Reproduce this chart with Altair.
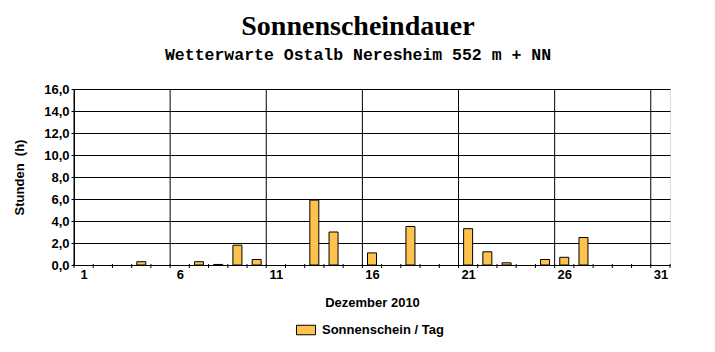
import altair as alt
import pandas as pd

# ---- data ----
days = [4, 7, 8, 9, 10, 13, 14, 16, 18, 21, 22, 23, 25, 26, 27]
hours = [0.3, 0.3, 0.05, 1.8, 0.5, 5.9, 3.0, 1.1, 3.5, 3.3, 1.2, 0.2, 0.5, 0.7, 2.5]
x_label_days = [1, 6, 11, 16, 21, 26, 31]
y_ticks = [0, 2, 4, 6, 8, 10, 12, 14, 16]
grid_bounds = [0.5, 5.5, 10.5, 15.5, 20.5, 25.5, 30.5]
tick_bounds = [d + 0.5 for d in range(0, 32)]
series_name = "Sonnenschein / Tag"
title_text = "Sonnenscheindauer"
subtitle_text = "Wetterwarte Ostalb Neresheim 552 m + NN"
x_title = "Dezember 2010"
y_title = "Stunden \u00a0(h)"

W, H = 596, 176
BAR_COLOR = "#FFC34D"
SANS = "Liberation Sans"

xscale = alt.Scale(domain=[0.5, 31.5], nice=False, zero=False, padding=0)
yscale = alt.Scale(domain=[0, 16], nice=False, zero=True, padding=0)

x_axis = alt.Axis(
    values=x_label_days, grid=False, ticks=False, domainColor="black",
    labelFont=SANS, labelFontWeight="bold", labelFontSize=13, labelColor="black",
    labelPadding=3, labelFlush=False,
    title=x_title, titleFont=SANS, titleFontWeight="bold", titleFontSize=13,
    titleColor="black", titleX=W / 2, titleY=37, titleBaseline="middle",
)
y_axis = alt.Axis(
    values=y_ticks, grid=True, gridColor="black", gridOpacity=1,
    domainColor="black", tickColor="black", tickSize=3,
    labelExpr="replace(format(datum.value, '.1f'), '.', ',')",
    labelFont=SANS, labelFontWeight="bold", labelFontSize=13, labelColor="black",
    labelPadding=2,
    title=y_title, titleFont=SANS, titleFontWeight="bold", titleFontSize=13,
    titleColor="black", titleX=-55, titleY=H / 2, titleBaseline="middle",
    titleAlign="center", titleAngle=270,
)

bars_df = pd.DataFrame({"day": days, "hours": hours, "series": series_name})
grid_df = pd.DataFrame({"day": grid_bounds})
tick_df = pd.DataFrame({"day": tick_bounds})

vgrid = alt.Chart(grid_df).mark_rule(color="black", strokeWidth=1).encode(
    x=alt.X("day:Q", scale=xscale, axis=x_axis)
)

bars = alt.Chart(bars_df).mark_bar(size=9, stroke="black", strokeWidth=1, opacity=1).encode(
    x=alt.X("day:Q", scale=xscale, axis=x_axis),
    y=alt.Y("hours:Q", scale=yscale, axis=y_axis),
    color=alt.Color(
        "series:N",
        scale=alt.Scale(domain=[series_name], range=[BAR_COLOR]),
        legend=alt.Legend(
            title=None, orient="none", legendX=222, legendY=231,
            symbolType="M-1,-0.5H1V0.5H-1Z", symbolSize=361,
            symbolStrokeColor="black", symbolStrokeWidth=1, symbolOpacity=1,
            labelFont=SANS, labelFontWeight="bold", labelFontSize=13,
            labelColor="black", labelOffset=6,
        ),
    ),
)

ticks = alt.Chart(tick_df).mark_rule(color="black", strokeWidth=1).encode(
    x=alt.X("day:Q", scale=xscale, axis=x_axis),
    y=alt.value(H - 1),
    y2=alt.value(H + 3),
)

chart = alt.layer(vgrid, bars, ticks).properties(
    width=W,
    height=H,
    autosize=alt.AutoSizeParams(type="none"),
    padding={"left": 74, "top": 89, "right": 45, "bottom": 87},
    title=alt.TitleParams(
        title_text,
        subtitle=subtitle_text,
        font="Liberation Serif", fontSize=28, fontWeight="bold", color="black",
        subtitleFont="Liberation Mono", subtitleFontSize=16.5,
        subtitleFontWeight="bold", subtitleColor="black", subtitlePadding=6,
        anchor="middle", dx=-14, offset=20,
    ),
).configure_view(stroke=None).configure(background="white")

chart.save("out.html", embed_options={"renderer": "svg", "actions": False})
